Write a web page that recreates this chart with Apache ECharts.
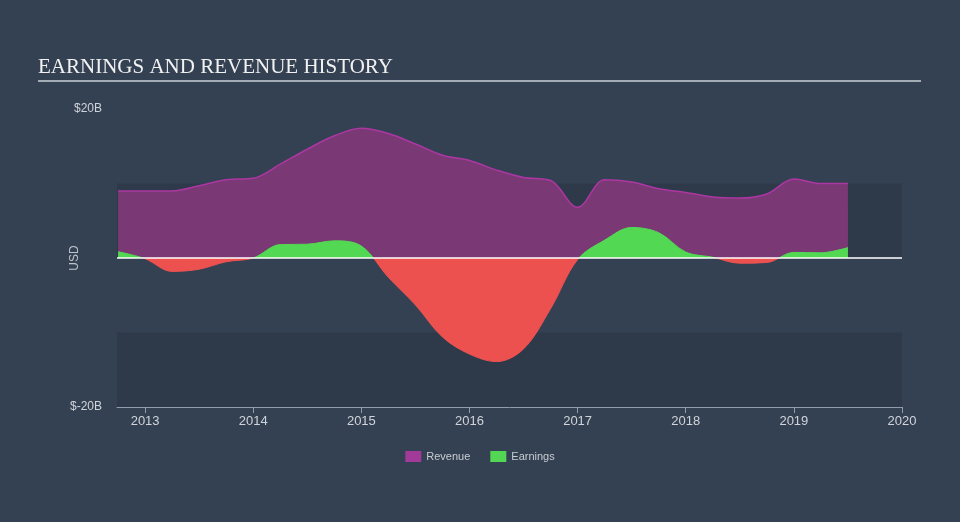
<!DOCTYPE html>
<html><head><meta charset="utf-8">
<script src="https://cdn.jsdelivr.net/npm/echarts@6/dist/echarts.min.js"></script>
<style>html,body{margin:0;padding:0;background:#344152;}#c{width:960px;height:522px;}</style>
</head><body><div id="c"></div>
<script>
// decimal years (quarterly samples)
const dates = [2012.75, 2013.0, 2013.25, 2013.5, 2013.75, 2014.0, 2014.25, 2014.5, 2014.75,
  2015.0, 2015.25, 2015.5, 2015.75, 2016.0, 2016.25, 2016.5, 2016.75, 2017.0, 2017.25,
  2017.5, 2017.75, 2018.0, 2018.25, 2018.5, 2018.75, 2019.0, 2019.25, 2019.5];
// USD billions
const revenue = [9.0, 9.0, 9.0, 9.7, 10.5, 10.7, 12.6, 14.6, 16.4,
  17.4, 16.7, 15.3, 13.8, 13.1, 11.8, 10.8, 10.4, 6.8, 10.5,
  10.2, 9.3, 8.8, 8.2, 8.05, 8.6, 10.6, 10.0, 10.0];
const earnings = [0.85, -0.1, -1.8, -1.5, -0.5, 0.0, 1.8, 1.85, 2.3,
  1.6, -2.6, -6.3, -10.6, -12.9, -13.9, -12.2, -6.8, -0.2, 2.4,
  4.1, 3.4, 0.8, 0.1, -0.7, -0.6, 0.75, 0.7, 1.4];
const yearTicks = [2013, 2014, 2015, 2016, 2017, 2018, 2019, 2020];
const yTickLabels = {"20": "$20B", "-20": "$-20B"};

const chart = echarts.init(document.getElementById('c'), null, {renderer: 'canvas'});
chart.setOption({
  backgroundColor: '#344152',
  animation: false,
  graphic: [
    {type: 'text', left: 38, top: 57, style: {text: 'EARNINGS AND REVENUE HISTORY', fill: '#f2f2f2',
      font: '21px "Liberation Serif", "DejaVu Serif", serif'}},
    {type: 'rect', shape: {x: 38, y: 80, width: 883, height: 2}, style: {fill: '#a3abb5'}}
  ],
  grid: {left: 117, right: 58, top: 109, bottom: 115},
  legend: {
    bottom: 55, left: 'center', icon: 'rect', itemWidth: 16, itemHeight: 11, itemGap: 20,
    textStyle: {color: '#c8ccd2', fontSize: 11, fontFamily: '"Liberation Sans", Arial, sans-serif'},
    data: [{name: 'Revenue', itemStyle: {color: '#a23a99'}}, {name: 'Earnings', itemStyle: {color: '#53d653'}}]
  },
  visualMap: {
    show: false, type: 'piecewise', seriesIndex: 1, dimension: 1,
    pieces: [{gte: -30, lt: 0, color: '#ec5150'}, {gte: 0, lte: 30, color: '#52d852'}]
  },
  xAxis: {
    type: 'value', min: 2012.74, max: 2020,
    axisLine: {onZero: false, lineStyle: {color: '#8e9db0', width: 1}},
    axisTick: {show: true, length: 6, lineStyle: {color: '#8e9db0'}, customValues: yearTicks},
    axisLabel: {color: '#d0d4da', fontSize: 13, margin: 8, customValues: yearTicks,
      fontFamily: '"Liberation Sans Narrow", "Liberation Sans", Arial, sans-serif',
      formatter: v => String(Math.round(v))},
    splitLine: {show: false}
  },
  yAxis: {
    type: 'value', min: -20, max: 20, interval: 10,
    name: 'USD', nameLocation: 'middle', nameGap: 36, nameRotate: 90, nameMoveOverlap: false,
    nameTextStyle: {color: '#c0c5cc', fontSize: 12, fontFamily: '"Liberation Sans", Arial, sans-serif'},
    axisLine: {show: false}, axisTick: {show: false},
    axisLabel: {color: '#d0d4da', fontSize: 12, margin: 15,
      fontFamily: '"Liberation Sans", Arial, sans-serif',
      formatter: v => yTickLabels[String(v)] || ''},
    splitLine: {show: false},
    splitArea: {show: true, areaStyle: {color: ['#2e3a4a', 'rgba(0,0,0,0)']}}
  },
  series: [
    {
      name: 'Revenue', type: 'line', smooth: 0.35, symbol: 'none',
      data: dates.map((d, i) => [d, revenue[i]]),
      itemStyle: {color: '#a23a99'},
      lineStyle: {color: '#ad37a2', width: 1.5},
      areaStyle: {color: '#7a3875', opacity: 1},
      z: 2
    },
    {
      name: 'Earnings', type: 'line', smooth: 0.35, symbol: 'none',
      data: dates.map((d, i) => [d, earnings[i]]),
      itemStyle: {color: '#53d653'},
      lineStyle: {width: 1},
      areaStyle: {opacity: 1},
      z: 3
    },
    {
      name: 'zero', type: 'line', data: [], z: 4,
      markLine: {
        silent: true, symbol: 'none', label: {show: false},
        lineStyle: {color: '#ffffff', width: 1.5, type: 'solid'},
        data: [{yAxis: 0}]
      }
    }
  ]
});
</script></body></html>
